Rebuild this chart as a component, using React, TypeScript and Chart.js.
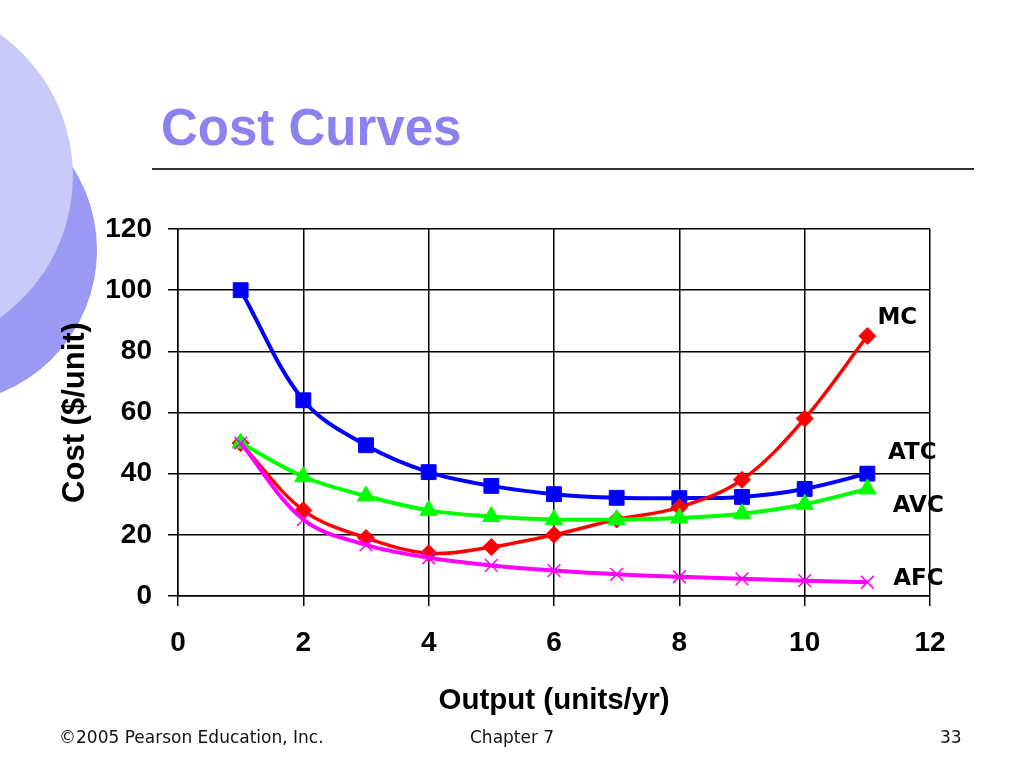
import React, { useEffect, useRef } from "react";
import { Chart, registerables } from "chart.js";

Chart.register(...registerables);

// ---- data ----
const outputs = [1, 2, 3, 4, 5, 6, 7, 8, 9, 10, 11];
const mcValues = [50, 28, 19, 14, 16, 20, 25, 29, 38, 58, 85];
const atcValues = [100, 64, 49.3, 40.5, 36, 33.3, 32.1, 32, 32.4, 35, 40];
const avcValues = [50, 39, 32.7, 28, 26, 25, 25, 25.5, 26.9, 30, 35];
const afcValues = [50, 25, 16.7, 12.5, 10, 8.3, 7.1, 6.3, 5.6, 5, 4.5];
const xTicks = [0, 2, 4, 6, 8, 10, 12];
const yTicks = [0, 20, 40, 60, 80, 100, 120];
const seriesNames = ["AFC", "AVC", "MC", "ATC"];

const toPoints = (vals: number[]) => vals.map((v, i) => ({ x: outputs[i], y: v }));

const labelOffsets: Record<string, [number, number]> = {
  MC: [30, -18],
  ATC: [45, -21],
  AVC: [51, 17],
  AFC: [51, -3],
};

const endLabels = {
  id: "endLabels",
  afterDatasetsDraw(chart: any) {
    const ctx = chart.ctx;
    ctx.save();
    ctx.font = "bold 23px 'DejaVu Sans', Verdana, sans-serif";
    ctx.fillStyle = "#000";
    ctx.textAlign = "center";
    ctx.textBaseline = "middle";
    chart.data.datasets.forEach((ds: any, i: number) => {
      const meta = chart.getDatasetMeta(i);
      const last = meta.data[meta.data.length - 1];
      const off = labelOffsets[ds.label] || [0, 0];
      ctx.fillText(ds.label, last.x + off[0], last.y + off[1]);
    });
    ctx.restore();
  },
};

export default function App() {
  const canvasRef = useRef<HTMLCanvasElement | null>(null);

  useEffect(() => {
    if (!canvasRef.current) return;
    const styles: Record<string, any> = {
      ATC: { color: "#0000ff", pointStyle: "rect", pointRadius: 10.5, borderWidth: 4 },
      AVC: { color: "#00ff00", pointStyle: "triangle", pointRadius: 10, borderWidth: 4 },
      MC: { color: "#ff0000", pointStyle: "rectRot", pointRadius: 8.5, borderWidth: 3.5 },
      AFC: { color: "#ff00ff", pointStyle: "crossRot", pointRadius: 9, borderWidth: 4 },
    };
    const valuesByName: Record<string, number[]> = {
      ATC: atcValues,
      AVC: avcValues,
      MC: mcValues,
      AFC: afcValues,
    };
    const tickFont = { family: "'Liberation Sans', Arial, sans-serif", size: 28, weight: "bold" as const };
    const chart = new Chart(canvasRef.current, {
      type: "line",
      data: {
        datasets: seriesNames.map((name) => {
          const s = styles[name];
          return {
            label: name,
            data: toPoints(valuesByName[name]),
            borderColor: s.color,
            backgroundColor: s.color,
            pointBackgroundColor: s.color,
            pointBorderColor: s.color,
            pointStyle: s.pointStyle,
            pointRadius: s.pointRadius,
            pointBorderWidth: name === "AFC" ? 1.5 : 1,
            borderWidth: s.borderWidth,
            tension: 0.35,
            fill: false,
          };
        }),
      },
      options: {
        responsive: false,
        animation: false,
        events: [],
        layout: { padding: { top: 229, right: 94, left: 0, bottom: 0 } },
        plugins: {
          legend: { display: false },
          tooltip: { enabled: false },
          title: { display: false },
        },
        scales: {
          x: {
            type: "linear",
            min: 0,
            max: 12,
            afterBuildTicks: (scale: any) => {
              scale.ticks = xTicks.map((v) => ({ value: v }));
            },
            afterFit: (scale: any) => {
              scale.height = 171;
            },
            ticks: { font: tickFont, color: "#000", padding: 20, maxRotation: 0 },
            grid: { color: "#000", lineWidth: 1.5, tickLength: 10, drawTicks: true },
            border: { display: true, color: "#000", width: 1.5 },
            title: {
              display: true,
              text: "Output (units/yr)",
              color: "#000",
              font: { family: "'Liberation Sans', Arial, sans-serif", size: 29.5, weight: "bold" },
              padding: { top: 0, bottom: 48 },
            },
          },
          y: {
            type: "linear",
            min: 0,
            max: 120,
            afterBuildTicks: (scale: any) => {
              scale.ticks = yTicks.map((v) => ({ value: v }));
            },
            afterFit: (scale: any) => {
              scale.width = 178;
            },
            ticks: { font: tickFont, color: "#000", padding: 16 },
            grid: { color: "#000", lineWidth: 1.5, tickLength: 10, drawTicks: true },
            border: { display: true, color: "#000", width: 1.5 },
            title: {
              display: true,
              text: "Cost ($/unit)",
              color: "#000",
              font: { family: "'Liberation Sans', Arial, sans-serif", size: 31, weight: "bold" },
              padding: { top: 57, bottom: 0 },
            },
          },
        },
      },
      plugins: [endLabels],
    });
    return () => chart.destroy();
  }, []);

  const footerStyle: React.CSSProperties = {
    position: "absolute",
    top: 727,
    fontFamily: "'DejaVu Sans', Verdana, sans-serif",
    fontSize: 17,
    lineHeight: "20px",
    color: "#111",
    whiteSpace: "nowrap",
  };

  return (
    <div
      style={{
        position: "fixed",
        left: 0,
        top: 0,
        width: 1024,
        height: 767,
        overflow: "hidden",
        background: "#fff",
      }}
    >
      <div
        style={{
          position: "absolute",
          left: -211,
          top: 96,
          width: 308,
          height: 308,
          borderRadius: "50%",
          background: "#9a9af4",
        }}
      />
      <div
        style={{
          position: "absolute",
          left: -275,
          top: 2,
          width: 348,
          height: 348,
          borderRadius: "50%",
          background: "#c9c9fa",
        }}
      />
      <div
        style={{
          position: "absolute",
          left: 161,
          top: 102,
          fontFamily: "'Liberation Sans', Arial, sans-serif",
          fontWeight: "bold",
          fontSize: 51,
          lineHeight: "51px",
          color: "#8c82ef",
          whiteSpace: "nowrap",
        }}
      >
        Cost Curves
      </div>
      <div
        style={{
          position: "absolute",
          left: 152,
          top: 168,
          width: 822,
          height: 2,
          background: "#333",
        }}
      />
      <canvas
        ref={canvasRef}
        width={1024}
        height={767}
        style={{ position: "absolute", left: 0, top: 0, width: 1024, height: 767 }}
      />
      <div style={{ ...footerStyle, left: 59 }}>©2005 Pearson Education, Inc.</div>
      <div style={{ ...footerStyle, left: 470 }}>Chapter 7</div>
      <div style={{ ...footerStyle, left: 940 }}>33</div>
    </div>
  );
}
